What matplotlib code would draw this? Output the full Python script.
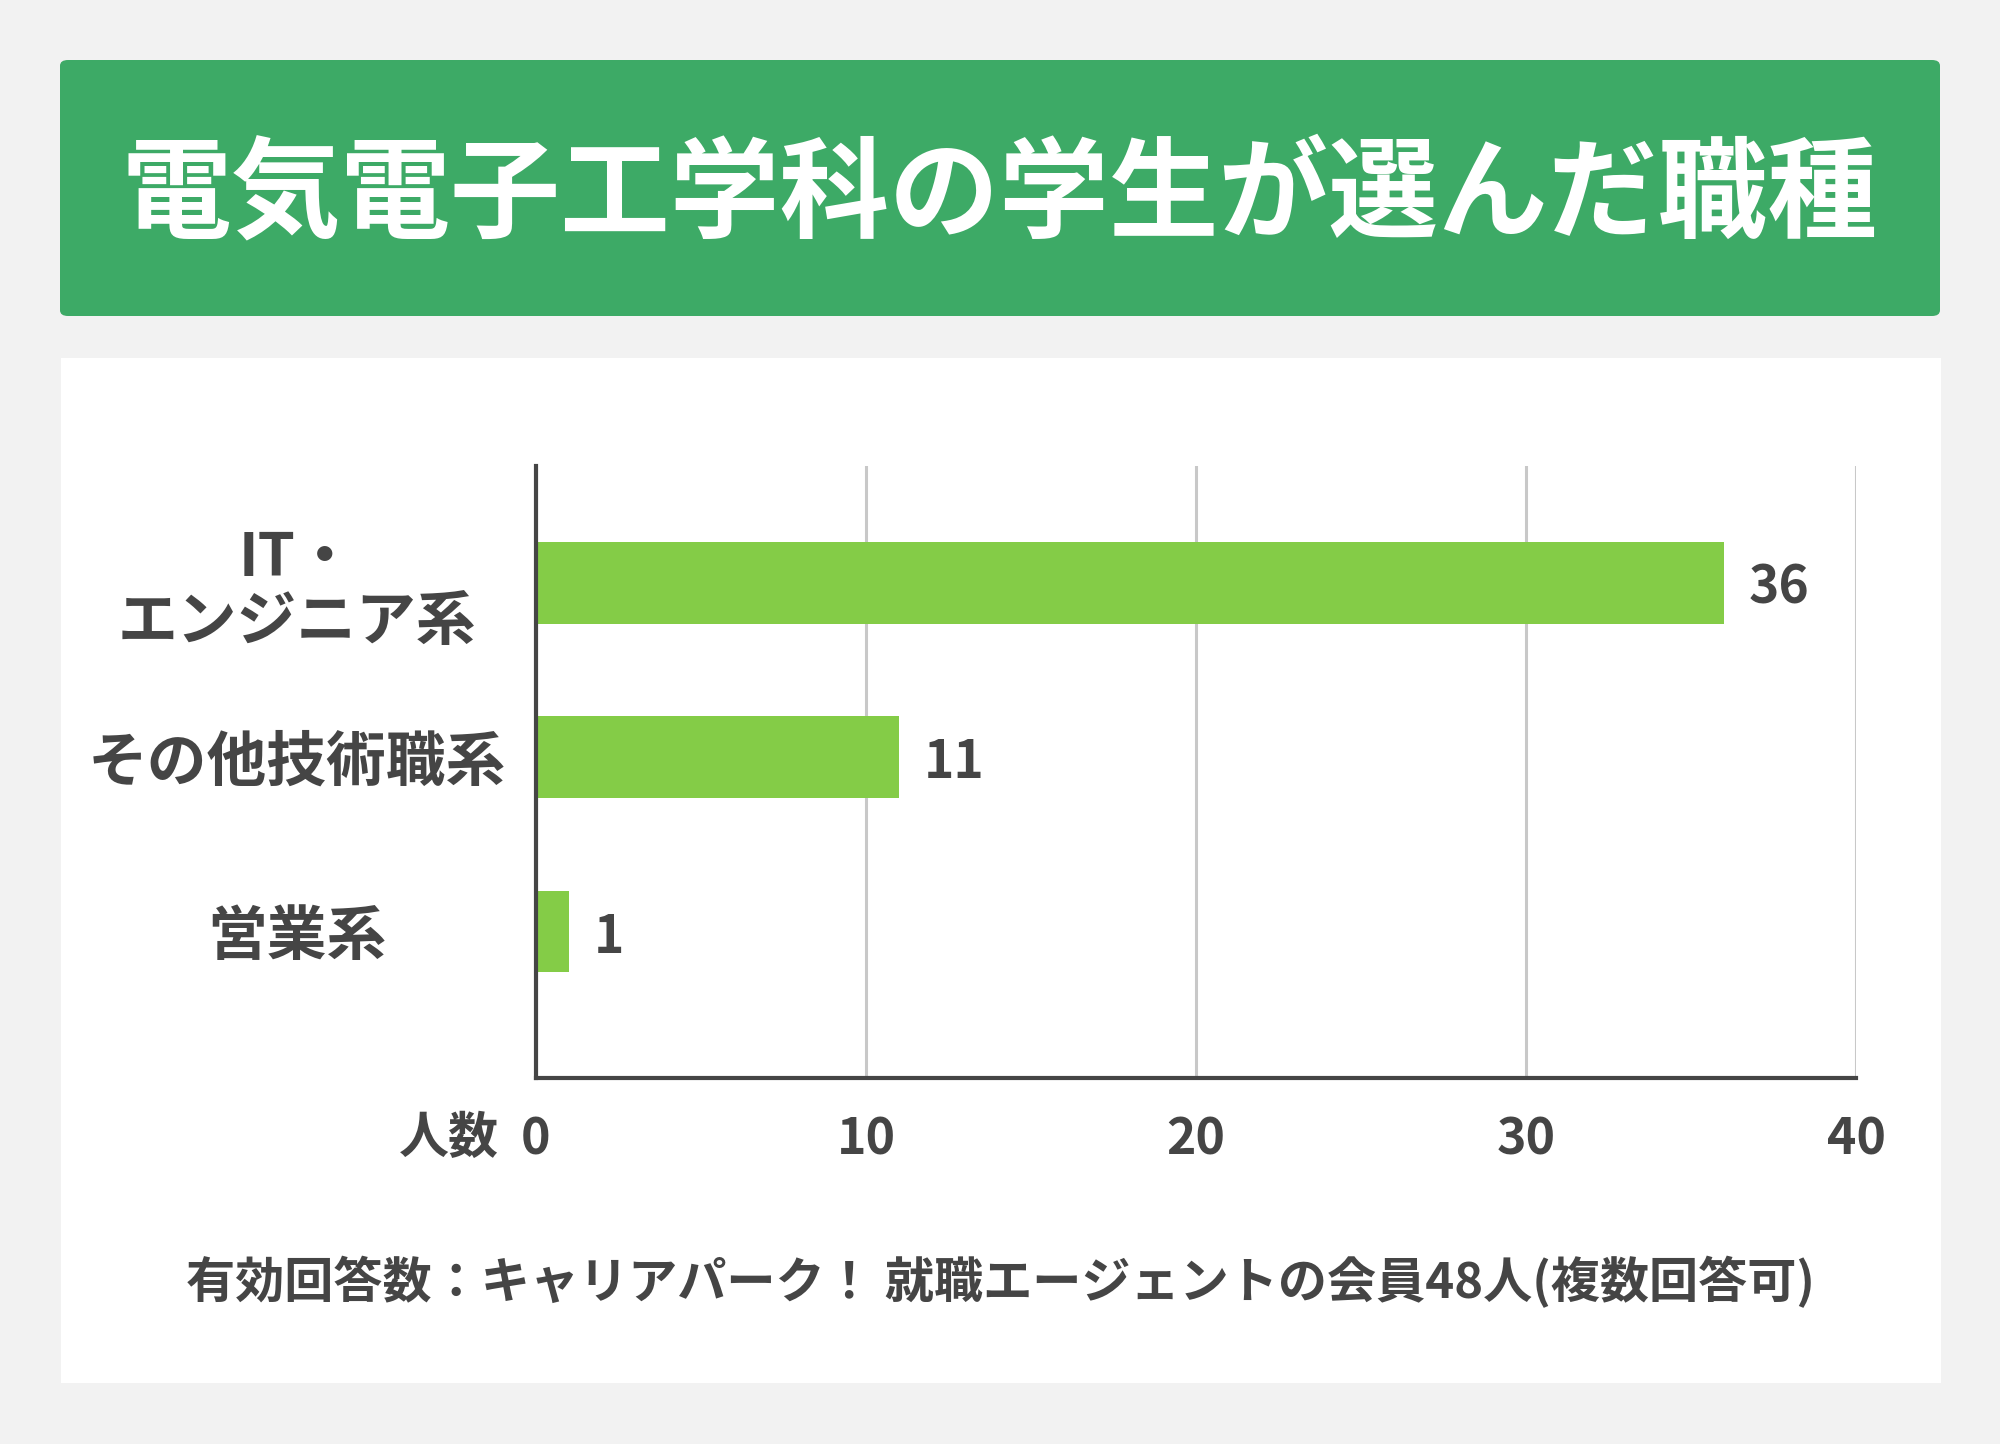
import matplotlib.pyplot as plt
from matplotlib.patches import FancyBboxPatch, Rectangle

plt.rcParams['font.family'] = ['Noto Sans CJK JP', 'DejaVu Sans']

title = "電気電子工学科の学生が選んだ職種"
categories = ["IT・\nエンジニア系", "その他技術職系", "営業系"]
counts = [36, 11, 1]
x_ticks = [0, 10, 20, 30, 40]
x_label = "人数"
note = "有効回答数：キャリアパーク！ 就職エージェントの会員48人(複数回答可)"

W, H = 2000, 1444
BG = "#f2f2f2"
GREEN = "#3daa66"
BAR = "#84cc47"
TXT = "#454545"


def fx(px):
    return px / W


def fy(py):
    return 1 - py / H


def main():
    fig = plt.figure(figsize=(20, 14.44), dpi=100, facecolor=BG)

    # title banner
    fig.patches.append(FancyBboxPatch(
        (fx(60), fy(316)), fx(1940) - fx(60), fy(60) - fy(316),
        boxstyle="round,pad=0,rounding_size=0.004", transform=fig.transFigure,
        facecolor=GREEN, edgecolor="none", zorder=-2))
    fig.text(0.5, fy(197), title, ha="center", va="center", color="white",
             fontsize=79, fontweight="bold")

    # white panel
    fig.patches.append(Rectangle(
        (fx(61), fy(1383)), fx(1941) - fx(61), fy(358) - fy(1383),
        transform=fig.transFigure, facecolor="white", edgecolor="none",
        zorder=-2))

    ax = fig.add_axes([fx(536), fy(1078), fx(1856) - fx(536), fy(466) - fy(1078)])
    ax.set_facecolor("none")
    pos = list(range(len(categories)))
    ax.barh(pos, counts, height=0.467, color=BAR, zorder=3)
    ax.set_ylim(2.84, -0.67)
    ax.set_xlim(0, 40)

    for p, v in zip(pos, counts):
        ax.annotate(str(v), (v, p), xytext=(18, -4), textcoords="offset points",
                    ha="left", va="center", fontsize=37, fontweight="bold",
                    color=TXT)

    ax.set_xticks(x_ticks)
    ax.set_xticklabels([str(t) for t in x_ticks], fontsize=36,
                       fontweight="bold", color=TXT)
    ax.set_yticks(pos)
    ax.set_yticklabels(categories, fontsize=43, fontweight="bold", color=TXT,
                       ha="center", linespacing=1.08)
    ax.tick_params(axis="x", length=0, pad=26)
    ax.tick_params(axis="y", length=0, pad=172)

    ax.grid(axis="x", color="#c8c8c8", linewidth=2.2, zorder=1)
    for s in ["top", "right"]:
        ax.spines[s].set_visible(False)
    for s in ["left", "bottom"]:
        ax.spines[s].set_color(TXT)
        ax.spines[s].set_linewidth(3)
        ax.spines[s].set_zorder(4)

    fig.text(fx(449), fy(1138), x_label, ha="center", va="center",
             fontsize=36, fontweight="bold", color=TXT)
    fig.text(fx(1000), fy(1282), note, ha="center", va="center",
             fontsize=35.4, fontweight="bold", color=TXT)

    fig.savefig("out.png", dpi=100, facecolor=BG)


if __name__ == "__main__":
    main()
